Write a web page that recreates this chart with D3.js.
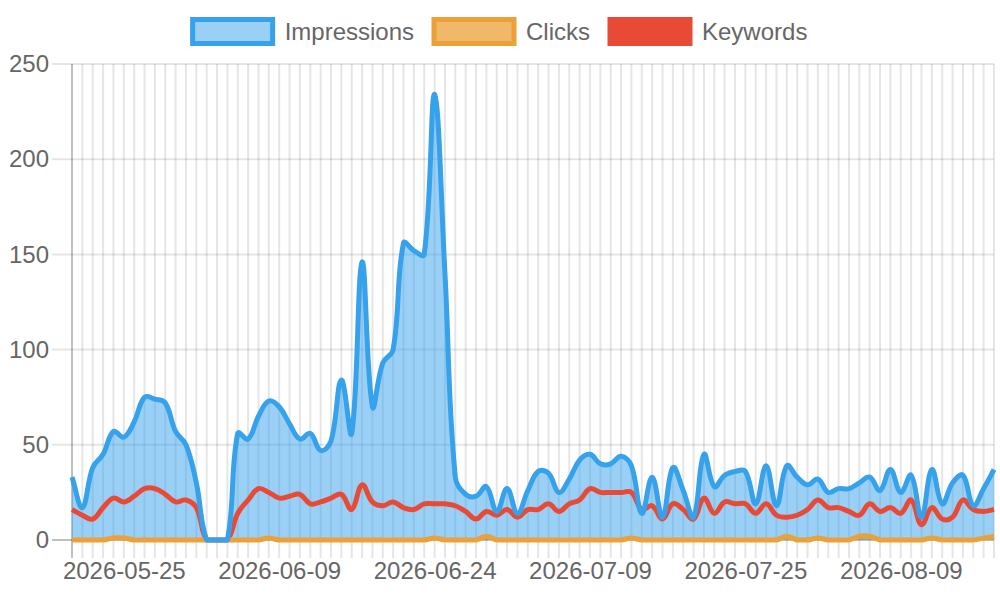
<!DOCTYPE html>
<html>
<head>
<meta charset="utf-8">
<script src="https://cdn.jsdelivr.net/npm/d3@7"></script>
<style>
  html, body { margin: 0; padding: 0; background: #fff; }
  svg { display: block; font-family: 'Liberation Sans', Arial, sans-serif; }
</style>
</head>
<body>
<svg id="chart" width="1000" height="600"></svg>
<script>
// Daily categories (one day, 2026-07-17, is absent from the data)
const dates = [
  '2026-05-20', '2026-05-21', '2026-05-22', '2026-05-23', '2026-05-24', '2026-05-25', '2026-05-26', '2026-05-27', '2026-05-28', '2026-05-29',
  '2026-05-30', '2026-05-31', '2026-06-01', '2026-06-02', '2026-06-03', '2026-06-04', '2026-06-05', '2026-06-06', '2026-06-07', '2026-06-08',
  '2026-06-09', '2026-06-10', '2026-06-11', '2026-06-12', '2026-06-13', '2026-06-14', '2026-06-15', '2026-06-16', '2026-06-17', '2026-06-18',
  '2026-06-19', '2026-06-20', '2026-06-21', '2026-06-22', '2026-06-23', '2026-06-24', '2026-06-25', '2026-06-26', '2026-06-27', '2026-06-28',
  '2026-06-29', '2026-06-30', '2026-07-01', '2026-07-02', '2026-07-03', '2026-07-04', '2026-07-05', '2026-07-06', '2026-07-07', '2026-07-08',
  '2026-07-09', '2026-07-10', '2026-07-11', '2026-07-12', '2026-07-13', '2026-07-14', '2026-07-15', '2026-07-16', '2026-07-18', '2026-07-19',
  '2026-07-20', '2026-07-21', '2026-07-22', '2026-07-23', '2026-07-24', '2026-07-25', '2026-07-26', '2026-07-27', '2026-07-28', '2026-07-29',
  '2026-07-30', '2026-07-31', '2026-08-01', '2026-08-02', '2026-08-03', '2026-08-04', '2026-08-05', '2026-08-06', '2026-08-07', '2026-08-08',
  '2026-08-09', '2026-08-10', '2026-08-11', '2026-08-12', '2026-08-13', '2026-08-14', '2026-08-15', '2026-08-16', '2026-08-17', '2026-08-18'
];

const impressions = [
  33, 17, 38, 45, 57, 54, 62, 75, 74, 72,
  57, 50, 30, 0, 0, 0, 56, 53, 65, 73,
  70, 61, 53, 56, 47, 52, 84, 56, 146, 70,
  93, 100, 156, 152, 150, 234, 140, 33, 24, 23,
  28, 15, 27, 14, 26, 36, 35, 25, 32, 42,
  45, 40, 40, 44, 39, 14, 33, 12, 38, 26,
  12, 45, 28, 34, 36, 36, 19, 39, 18, 39,
  33, 29, 32, 25, 27, 27, 30, 33, 26, 37,
  25, 34, 12, 37, 19, 30, 34, 18, 27, 37
];

const clicks = [
  0, 0, 0, 0, 1, 1, 0, 0, 0, 0,
  0, 0, 0, 0, 0, 0, 0, 0, 0, 1,
  0, 0, 0, 0, 0, 0, 0, 0, 0, 0,
  0, 0, 0, 0, 0, 1, 0, 0, 0, 0,
  2, 0, 0, 0, 0, 0, 0, 0, 0, 0,
  0, 0, 0, 0, 1, 0, 0, 0, 0, 0,
  0, 0, 0, 0, 0, 0, 0, 0, 0, 2,
  0, 0, 1, 0, 0, 0, 2, 2, 0, 0,
  0, 0, 0, 1, 0, 0, 0, 0, 1, 2
];

const keywords = [
  16, 13, 11, 17, 22, 20, 23, 27, 27, 24,
  20, 21, 17, 0, 0, 0, 14, 21, 27, 25,
  22, 23, 24, 19, 20, 22, 24, 16, 29, 20,
  18, 20, 17, 16, 19, 19, 19, 18, 15, 11,
  15, 13, 16, 12, 16, 16, 19, 15, 19, 21,
  27, 25, 25, 25, 25, 16, 18, 11, 19, 16,
  11, 22, 14, 20, 19, 19, 14, 19, 13, 12,
  13, 16, 21, 17, 17, 15, 13, 19, 15, 17,
  14, 21, 8, 17, 11, 12, 21, 16, 15, 16
];

const yTicks = [0, 50, 100, 150, 200, 250];

// Series in dataset order (drawn in reverse, fills first)
const series = [
  { name: 'Impressions', values: impressions, stroke: '#36a2eb', fill: 'rgba(54,162,235,0.5)', area: true },
  { name: 'Clicks', values: clicks, stroke: '#eba137', fill: 'rgba(235,161,55,0.75)', area: true },
  { name: 'Keywords', values: keywords, stroke: '#e94a35', fill: '#e94a35', area: false }
];

const area = { left: 72, right: 994, top: 64, bottom: 540 };
const tickLen = 18;
const fontSize = 24;
const textColor = '#666';
const gridColor = 'rgba(0,0,0,0.1)';
const zeroColor = 'rgba(0,0,0,0.25)';
const tension = 0.4;

const svg = d3.select('#chart');

const x = d3.scalePoint()
  .domain(dates)
  .range([area.left, area.right]);

const y = d3.scaleLinear()
  .domain([0, 250])
  .range([area.bottom, area.top]);

// Gridlines (vertical for every category, horizontal for every y tick)
const grid = svg.append('g').attr('class', 'grid');

grid.selectAll('.vgrid')
  .data(dates)
  .enter()
  .append('line')
  .attr('class', 'vgrid')
  .attr('x1', d => x(d))
  .attr('x2', d => x(d))
  .attr('y1', area.top)
  .attr('y2', area.bottom + tickLen)
  .attr('stroke', (d, i) => i === 0 ? zeroColor : gridColor)
  .attr('stroke-width', 2);

grid.selectAll('.hgrid')
  .data(yTicks)
  .enter()
  .append('line')
  .attr('class', 'hgrid')
  .attr('x1', area.left - 20)
  .attr('x2', area.right)
  .attr('y1', d => y(d))
  .attr('y2', d => y(d))
  .attr('stroke', d => d === 0 ? zeroColor : gridColor)
  .attr('stroke-width', 2);

// Y axis labels
const yAxis = d3.axisLeft(y)
  .tickValues(yTicks)
  .tickSize(0)
  .tickPadding(area.left - 49);

svg.append('g')
  .attr('class', 'y-axis')
  .attr('transform', `translate(${area.left},0)`)
  .call(yAxis)
  .call(g => g.select('.domain').remove())
  .selectAll('text')
  .attr('fill', textColor)
  .style('font-size', `${fontSize}px`)
  .style('font-family', "'Liberation Sans', Arial, sans-serif");

// X axis labels (auto-skipped, every 15th category)
const xAxis = d3.axisBottom(x)
  .tickValues(dates.filter((d, i) => i % 15 === 5))
  .tickSize(0)
  .tickPadding(tickLen + 4);

svg.append('g')
  .attr('class', 'x-axis')
  .attr('transform', `translate(0,${area.bottom})`)
  .call(xAxis)
  .call(g => g.select('.domain').remove())
  .selectAll('text')
  .attr('fill', textColor)
  .style('font-size', `${fontSize}px`)
  .style('font-family', "'Liberation Sans', Arial, sans-serif");

// Spline control points in the style of a tension-0.4 line chart
function splinePoints(values) {
  const pts = values.map((v, i) => ({ x: x(dates[i]), y: y(v) }));
  const cap = p => ({
    x: Math.max(area.left, Math.min(area.right, p.x)),
    y: Math.max(area.top, Math.min(area.bottom, p.y))
  });
  pts.forEach((p, i) => {
    const prev = pts[i - 1] || p;
    const next = pts[i + 1] || p;
    const d01 = Math.hypot(p.x - prev.x, p.y - prev.y);
    const d12 = Math.hypot(next.x - p.x, next.y - p.y);
    let s01 = d01 / (d01 + d12);
    let s12 = d12 / (d01 + d12);
    if (isNaN(s01)) s01 = 0;
    if (isNaN(s12)) s12 = 0;
    const fa = tension * s01;
    const fb = tension * s12;
    p.cpPrev = cap({ x: p.x - fa * (next.x - prev.x), y: p.y - fa * (next.y - prev.y) });
    p.cpNext = cap({ x: p.x + fb * (next.x - prev.x), y: p.y + fb * (next.y - prev.y) });
  });
  return pts;
}

function tracePath(path, pts) {
  pts.forEach((p, i) => {
    if (i === 0) return;
    const a = pts[i - 1];
    path.bezierCurveTo(a.cpNext.x, a.cpNext.y, p.cpPrev.x, p.cpPrev.y, p.x, p.y);
  });
}

function linePath(values) {
  const pts = splinePoints(values);
  const path = d3.path();
  path.moveTo(pts[0].x, pts[0].y);
  tracePath(path, pts);
  return path.toString();
}

function areaPath(values) {
  const pts = splinePoints(values);
  const path = d3.path();
  path.moveTo(pts[0].x, pts[0].y);
  tracePath(path, pts);
  path.lineTo(pts[pts.length - 1].x, y(0));
  path.lineTo(pts[0].x, y(0));
  path.closePath();
  return path.toString();
}

// Fills first, then lines in reverse dataset order
const plot = svg.append('g').attr('class', 'plot');

series.slice().reverse().filter(s => s.area).forEach(s => {
  plot.append('path')
    .attr('class', 'area')
    .attr('d', areaPath(s.values))
    .attr('fill', s.fill);
});

series.slice().reverse().forEach(s => {
  plot.append('path')
    .attr('class', 'line')
    .attr('d', linePath(s.values))
    .attr('fill', 'none')
    .attr('stroke', s.stroke)
    .attr('stroke-width', 5)
    .attr('stroke-linejoin', 'round');
});

// Legend, centered at the top
const legend = svg.append('g').attr('class', 'legend');
const boxW = 80;
const boxH = 24;
const gap = 20;

const items = series.map(s => {
  const g = legend.append('g');
  g.append('rect')
    .attr('width', boxW)
    .attr('height', boxH)
    .attr('fill', s.fill)
    .attr('stroke', s.stroke)
    .attr('stroke-width', 5);
  const t = g.append('text')
    .attr('x', boxW + fontSize / 2)
    .attr('y', boxH / 2)
    .attr('dy', '0.35em')
    .attr('fill', textColor)
    .style('font-size', `${fontSize}px`)
    .text(s.name);
  return { g, w: boxW + fontSize / 2 + t.node().getComputedTextLength() };
});

const total = d3.sum(items, d => d.w) + gap * (items.length - 1);
let lx = (1000 - total) / 2;
items.forEach(it => {
  it.g.attr('transform', `translate(${lx},19.5)`);
  lx += it.w + gap;
});
</script>
</body>
</html>
